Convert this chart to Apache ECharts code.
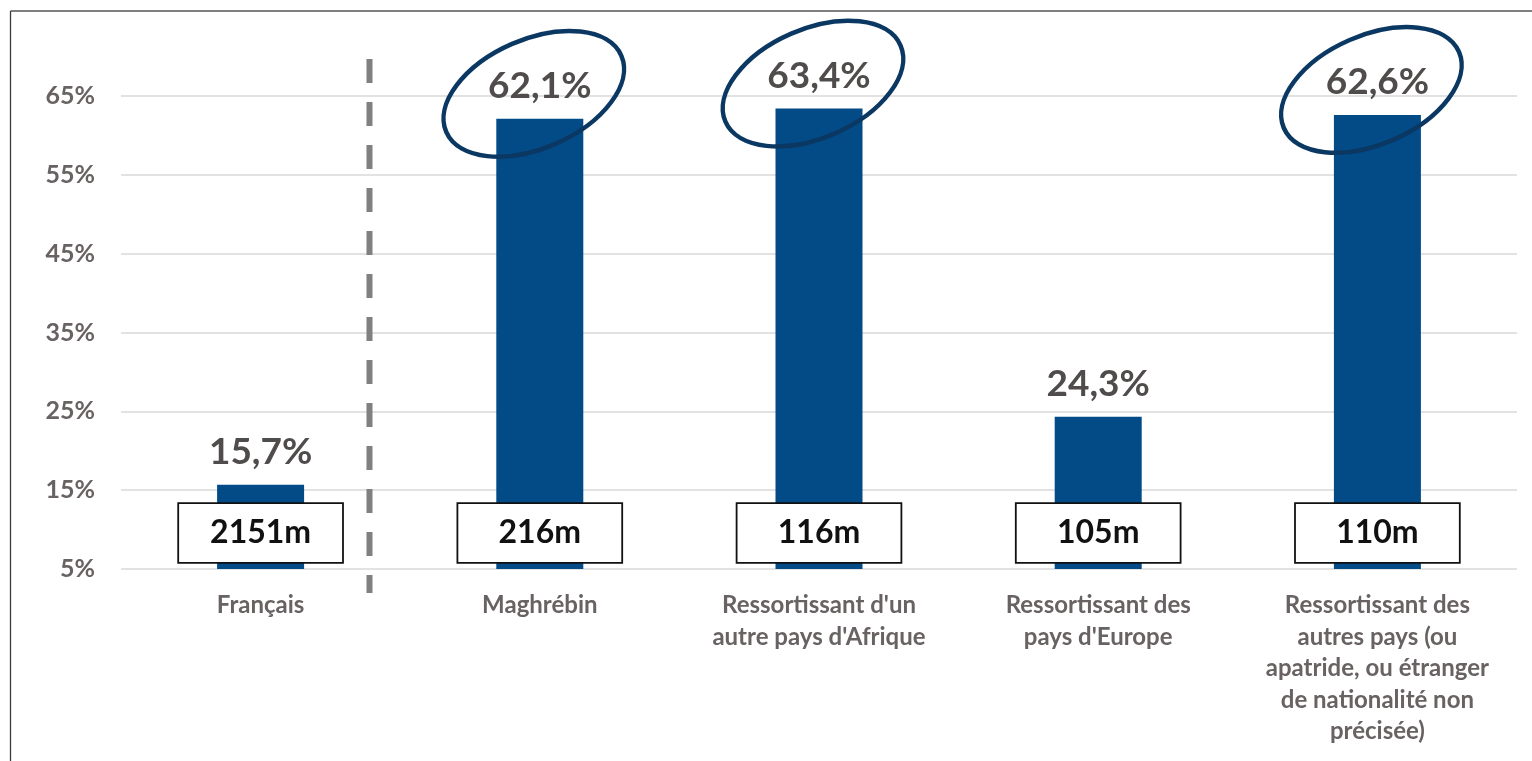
<!DOCTYPE html>
<html>
<head>
<meta charset="utf-8">
<script src="https://cdn.jsdelivr.net/npm/echarts@6/dist/echarts.min.js"></script>
<style>
html,body{margin:0;padding:0;background:#fff;}
#chart{width:1532px;height:761px;}
</style>
</head>
<body>
<div id="chart"></div>
<script>
// ---- data ----
const categories = [
  "Français",
  "Maghrébin",
  "Ressortissant d'un\nautre pays d'Afrique",
  "Ressortissant des\npays d'Europe",
  "Ressortissant des\nautres pays (ou\napatride, ou étranger\nde nationalité non\nprécisée)"
];
const values = [15.7, 62.1, 63.4, 24.3, 62.6];
const counts = [2151, 216, 116, 105, 110];
const circled = [1, 2, 4];
const yTicks = [5, 15, 25, 35, 45, 55, 65];

const FONT = 'Lato';
const chart = echarts.init(document.getElementById('chart'), null, {renderer: 'canvas'});

const option = {
  animation: false,
  backgroundColor: '#ffffff',
  grid: {left: 121, right: 15, top: 96, bottom: 192, containLabel: false},
  xAxis: {
    type: 'category',
    data: categories,
    axisLine: {show: false},
    axisTick: {show: false},
    axisLabel: {
      interval: 0,
      margin: 21,
      color: '#686262',
      fontFamily: FONT,
      fontWeight: 'bold',
      fontSize: 24,
      lineHeight: 31.5
    }
  },
  yAxis: {
    type: 'value',
    min: yTicks[0],
    max: yTicks[yTicks.length - 1],
    interval: 10,
    axisLine: {show: false},
    axisTick: {show: false},
    splitLine: {lineStyle: {color: '#d9d9d9', width: 1.5}},
    axisLabel: {
      margin: 26,
      color: '#686262',
      fontFamily: FONT,
      fontWeight: 'bold',
      fontSize: 25,
      formatter: v => v + '%'
    }
  },
  series: [
    {
      type: 'bar',
      data: values,
      barWidth: 87,
      itemStyle: {color: '#024b86'},
      label: {
        show: true,
        position: 'top',
        distance: 14,
        color: '#504c4c',
        fontFamily: FONT,
        fontWeight: 'bold',
        fontSize: 37,
        formatter: p => p.value.toFixed(1).replace('.', ',') + '%'
      },
      z: 2
    },
    {
      type: 'bar',
      data: values,
      barWidth: 87,
      barGap: '-100%',
      itemStyle: {color: 'rgba(0,0,0,0)'},
      label: {
        show: true,
        position: 'insideBottom',
        distance: 7,
        formatter: p => counts[p.dataIndex] + 'm',
        color: '#111111',
        fontFamily: FONT,
        fontWeight: 'bold',
        fontSize: 32,
        backgroundColor: '#ffffff',
        borderColor: '#111111',
        borderWidth: 1.8,
        width: 163,
        height: 58,
        lineHeight: 58,
        align: 'center',
        padding: 0
      },
      z: 3
    },
    {
      type: 'custom',
      clip: false,
      data: circled.map(i => [i, values[i]]),
      renderItem: function (params, api) {
        const p = api.coord([api.value(0), api.value(1)]);
        return {
          type: 'ellipse',
          x: p[0] - 6,
          y: p[1] - 25,
          rotation: 23.5 * Math.PI / 180,
          shape: {cx: 0, cy: 0, rx: 95.5, ry: 54.5},
          style: {fill: 'none', stroke: '#0b3863', lineWidth: 4.5},
          z2: 10
        };
      },
      z: 10
    }
  ]
};
chart.setOption(option);

// decorative separator and frame
const x0 = chart.convertToPixel({xAxisIndex: 0}, 0);
const x1 = chart.convertToPixel({xAxisIndex: 0}, 1);
const sepX = x0 + (x1 - x0) * 0.39;
chart.setOption({
  graphic: [
    {
      type: 'line',
      shape: {x1: sepX, y1: 59, x2: sepX, y2: 593},
      style: {stroke: '#808080', lineWidth: 6, lineDash: [24, 19]},
      z: 5
    },
    {
      type: 'line',
      shape: {x1: 10.5, y1: 11, x2: 1540, y2: 11},
      style: {stroke: '#7f7f7f', lineWidth: 2}
    },
    {
      type: 'line',
      shape: {x1: 10.5, y1: 11, x2: 10.5, y2: 770},
      style: {stroke: '#3a3a3a', lineWidth: 1.3}
    }
  ]
});
</script>
</body>
</html>
